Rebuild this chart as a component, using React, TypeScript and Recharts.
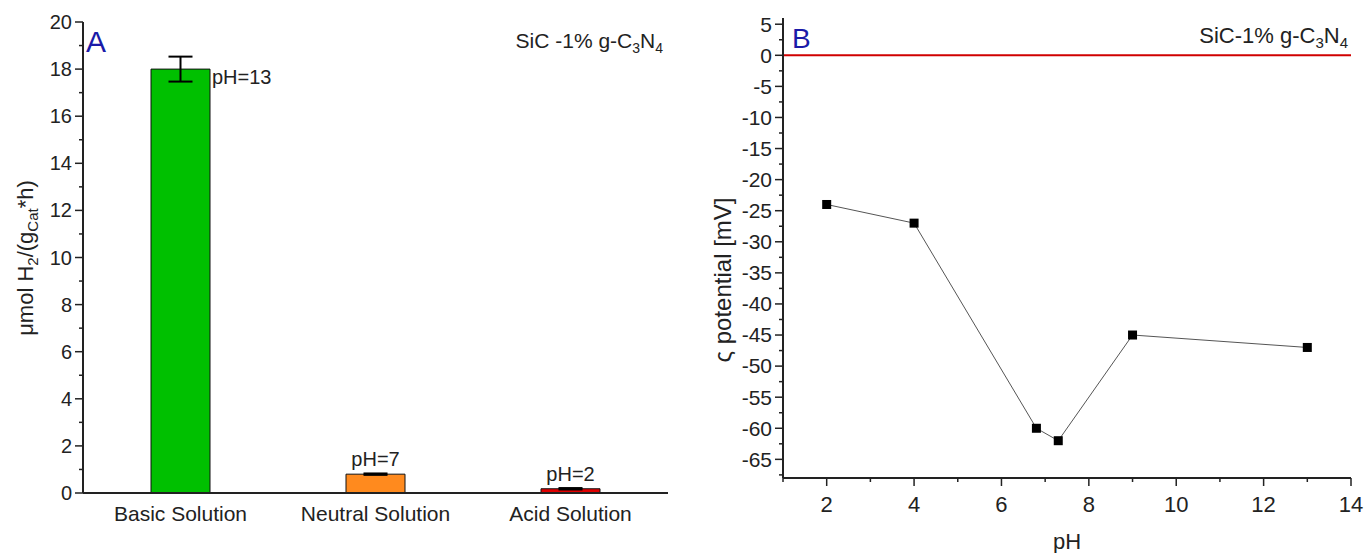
import React from "react";
import {
  BarChart,
  Bar,
  XAxis,
  YAxis,
  Cell,
  ErrorBar,
  LabelList,
  LineChart,
  Line,
  ReferenceLine
} from "recharts";

// Panel A: H2 production rate by solution
const categories = ["Basic Solution", "Neutral Solution", "Acid Solution"];
const rates = [18, 0.8, 0.18];
const rateErrors = [0.53, 0.03, 0.03];
const phLabels = ["pH=13", "pH=7", "pH=2"];
const barColors = ["#00C000", "#FF8A1E", "#E00000"];
const rateMajor = [0, 2, 4, 6, 8, 10, 12, 14, 16, 18, 20];
const rateMinor = [1, 3, 5, 7, 9, 11, 13, 15, 17, 19];

// Panel B: zeta potential vs pH
const phValues = [2, 4, 6.8, 7.3, 9, 13];
const zetaValues = [-24, -27, -60, -62, -45, -47];
const phMajor = [2, 4, 6, 8, 10, 12, 14];
const phMinor = [1, 3, 5, 7, 9, 11, 13];
const zetaMajor = [5, 0, -5, -10, -15, -20, -25, -30, -35, -40, -45, -50, -55, -60, -65];
const zetaMinor = [2.5, -2.5, -7.5, -12.5, -17.5, -22.5, -27.5, -32.5, -37.5, -42.5, -47.5, -52.5, -57.5, -62.5, -67.5];

const barData = categories.map((name, i) => ({
  name,
  rate: rates[i],
  err: rateErrors[i],
  ph: phLabels[i]
}));

const zetaData = phValues.map((ph, i) => ({ ph, zeta: zetaValues[i] }));

const INK = "#222";
const FONT = "'Liberation Sans', Arial, sans-serif";

// left axis tick: long for majors with label, short for minors
const LeftTick = ({ x, y, payload, majors, fontSize }: any) => {
  const major = majors.includes(payload.value);
  return (
    <g>
      <line x1={x - (major ? 8 : 4)} x2={x} y1={y} y2={y} stroke={INK} strokeWidth={1.5} />
      {major && (
        <text x={x - 11} y={y} dy="0.35em" textAnchor="end" fontSize={fontSize} fill={INK}>
          {payload.value}
        </text>
      )}
    </g>
  );
};

const BottomTick = ({ x, y, payload }: any) => {
  const major = phMajor.includes(payload.value);
  return (
    <g>
      <line x1={x} x2={x} y1={y} y2={y + (major ? 8 : 4)} stroke={INK} strokeWidth={1.5} />
      {major && (
        <text x={x} y={y + 34} textAnchor="middle" fontSize={22} fill={INK}>
          {payload.value}
        </text>
      )}
    </g>
  );
};

const CategoryTick = ({ x, y, payload }: any) => (
  <text x={x} y={y + 28} textAnchor="middle" fontSize={21} fill={INK}>
    {payload.value}
  </text>
);

const PhLabel = ({ x, y, width, index, value }: any) => {
  if (index === 0) {
    return (
      <text x={x + width + 2} y={y + 15} fontSize={20} fill={INK}>
        {value}
      </text>
    );
  }
  return (
    <text x={x + width / 2} y={y - 8} textAnchor="middle" fontSize={20} fill={INK}>
      {value}
    </text>
  );
};

const SquareDot = ({ cx, cy, index }: any) => (
  <rect key={index} x={cx - 4.5} y={cy - 4.5} width={9} height={9} fill="#000" />
);

export default function App() {
  return (
    <div
      style={{
        position: "absolute",
        left: 0,
        top: 0,
        width: 1366,
        height: 553,
        background: "#fff",
        fontFamily: FONT
      }}
    >
      <div style={{ position: "absolute", left: 0, top: 0 }}>
        <BarChart
          width={690}
          height={553}
          data={barData}
          margin={{ top: 22, right: 22, bottom: 0, left: 0 }}
        >
          <XAxis
            dataKey="name"
            height={60}
            tickSize={0}
            tickMargin={0}
            tick={(p: any) => <CategoryTick {...p} />}
            axisLine={{ stroke: INK, strokeWidth: 2 }}
          />
          <XAxis
            xAxisId="top"
            orientation="top"
            dataKey="name"
            height={0}
            tick={false}
            tickLine={false}
            axisLine={{ stroke: INK, strokeWidth: 2 }}
          />
          <YAxis
            width={83}
            domain={[0, 20]}
            ticks={[...rateMajor, ...rateMinor]}
            interval={0}
            tickSize={0}
            tickMargin={0}
            tick={(p: any) => <LeftTick {...p} majors={rateMajor} fontSize={20} />}
            axisLine={{ stroke: INK, strokeWidth: 2 }}
          />
          <YAxis
            yAxisId="right"
            orientation="right"
            width={0}
            domain={[0, 20]}
            tick={false}
            tickLine={false}
            axisLine={{ stroke: INK, strokeWidth: 2 }}
          />
          <Bar dataKey="rate" barSize={59} stroke="#111" strokeWidth={1} isAnimationActive={false}>
            {barData.map((d, i) => (
              <Cell key={d.name} fill={barColors[i]} />
            ))}
            <ErrorBar dataKey="err" width={12} stroke="#000" strokeWidth={2} />
            <LabelList dataKey="ph" content={(p: any) => <PhLabel {...p} />} />
          </Bar>
        </BarChart>
      </div>

      <div style={{ position: "absolute", left: 690, top: 0 }}>
        <LineChart
          width={676}
          height={553}
          data={zetaData}
          margin={{ top: 18, right: 15, bottom: 0, left: 0 }}
        >
          <XAxis
            dataKey="ph"
            type="number"
            domain={[1, 14]}
            height={75}
            ticks={[...phMajor, ...phMinor]}
            interval={0}
            tickSize={0}
            tickMargin={0}
            tick={(p: any) => <BottomTick {...p} />}
            axisLine={{ stroke: INK, strokeWidth: 2 }}
          />
          <XAxis
            xAxisId="top"
            orientation="top"
            type="number"
            domain={[1, 14]}
            height={0}
            tick={false}
            tickLine={false}
            axisLine={{ stroke: INK, strokeWidth: 2 }}
          />
          <YAxis
            width={93}
            type="number"
            domain={[-68, 6]}
            ticks={[...zetaMajor, ...zetaMinor]}
            interval={0}
            tickSize={0}
            tickMargin={0}
            tick={(p: any) => <LeftTick {...p} majors={zetaMajor} fontSize={21} />}
            axisLine={{ stroke: INK, strokeWidth: 2 }}
          />
          <YAxis
            yAxisId="right"
            orientation="right"
            width={0}
            type="number"
            domain={[-68, 6]}
            tick={false}
            tickLine={false}
            axisLine={{ stroke: INK, strokeWidth: 2 }}
          />
          <ReferenceLine y={0} stroke="#D00000" strokeWidth={2} />
          <Line
            dataKey="zeta"
            stroke="#555"
            strokeWidth={1}
            dot={(p: any) => <SquareDot {...p} />}
            isAnimationActive={false}
          />
        </LineChart>
      </div>

      {/* panel annotations and axis titles */}
      <svg
        width={1366}
        height={553}
        style={{ position: "absolute", left: 0, top: 0, pointerEvents: "none" }}
        fontFamily={FONT}
      >
        <text x={86} y={52} fontSize={30} fill="#1A1AA8">A</text>
        <text x={663} y={48} fontSize={21} fill={INK} textAnchor="end">
          SiC -1% g-C<tspan dy={5} fontSize={14}>3</tspan>
          <tspan dy={-5}>N</tspan>
          <tspan dy={5} fontSize={14}>4</tspan>
        </text>
        <text x={0} y={0} fontSize={22} fill={INK} textAnchor="middle" transform="translate(33 258) rotate(-90)">
          μmol H<tspan dy={5} fontSize={15}>2</tspan>
          <tspan dy={-5}>/(g</tspan>
          <tspan dy={5} fontSize={15}>Cat</tspan>
          <tspan dy={-5}>*h)</tspan>
        </text>

        <text x={792} y={48} fontSize={28} fill="#1A1AA8">B</text>
        <text x={1348} y={43} fontSize={22} fill={INK} textAnchor="end">
          SiC-1% g-C<tspan dy={5} fontSize={15}>3</tspan>
          <tspan dy={-5}>N</tspan>
          <tspan dy={5} fontSize={15}>4</tspan>
        </text>
        <text x={0} y={0} fontSize={24} fill={INK} textAnchor="middle" transform="translate(731 280) rotate(-90)">
          ς potential [mV]
        </text>
        <text x={1067} y={549} fontSize={22} fill={INK} textAnchor="middle">pH</text>
      </svg>
    </div>
  );
}
